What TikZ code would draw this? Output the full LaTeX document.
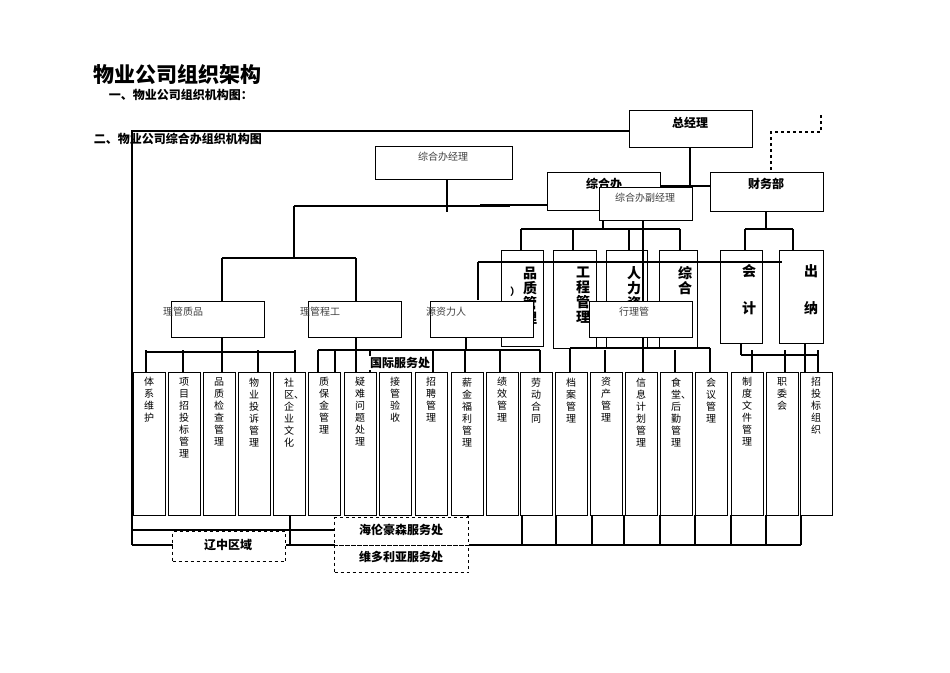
\documentclass[tikz,border=0pt]{standalone}
\usepackage{fontspec}
\setmainfont{Noto Sans CJK SC}
\XeTeXlinebreaklocale "zh"
\XeTeXlinebreakskip = 0pt plus 1pt
\begin{document}
\begin{tikzpicture}[x=1pt,y=-1pt,line width=1.2pt,
  bx/.style={draw,fill=white,inner sep=0},
  dbx/.style={draw,dashed,fill=white,inner sep=0},
  vt/.style={anchor=north,text width=10pt,align=center,font=\fontsize{10}{12}\selectfont,inner sep=0},
  vb/.style={anchor=north,text width=15pt,align=center,font=\fontsize{14}{15}\selectfont\bfseries,inner sep=0},
  sm/.style={font=\fontsize{10}{11}\selectfont,text=black!75}]
\useasboundingbox (0,0) rectangle (950,672);
% titles
\node[anchor=west,font=\fontsize{21}{22}\selectfont\bfseries] (t1) at (90,75) {物业公司组织架构};
\node[anchor=west,font=\fontsize{12}{13}\selectfont\bfseries] (t2) at (105,95) {一、物业公司组织机构图：};
% outer lines
\draw (132,545) -- (132,131) -- (629,131);
\draw[dashed] (771,170) -- (771,132) -- (821,132) -- (821,113);
\draw (690,147) -- (690,186) (660,186) -- (710,186);
\draw (480,205) -- (599,205);
% top boxes
\node[bx,minimum width=123,minimum height=37,anchor=north west] (zjl) at (629,110) {};
\node[font=\fontsize{12}{13}\selectfont\bfseries] at (690,123) {总经理};
\node[bx,minimum width=137,minimum height=33,anchor=north west] (zhjl) at (375,146) {};
\node[sm] at (443,157) {综合办经理};
\draw (447,179) -- (447,212) (294,206) -- (510,206) (294,206) -- (294,258) (222,258) -- (356,258) (222,258) -- (222,301) (356,258) -- (356,301);
\node[bx,minimum width=113,minimum height=38,anchor=north west] (zhb) at (547,172) {};
\node[font=\fontsize{12}{13}\selectfont\bfseries] at (604,184) {综合办};
\node[bx,minimum width=113,minimum height=39,anchor=north west] (cwb) at (710,172) {};
\node[font=\fontsize{12}{13}\selectfont\bfseries] at (766,184) {财务部};
\node[bx,minimum width=93,minimum height=33,anchor=north west] (fjl) at (599,187) {};
\node[sm] at (645,198) {综合办副经理};
% second level
\draw (521,229) -- (680,229);
\foreach \x in {521,573,629,680} \draw (\x,229) -- (\x,250);
\draw (603,220) -- (603,229) (766,211) -- (766,229) (745,229) -- (793,229) (745,229) -- (745,250) (793,229) -- (793,250);
\node[bx,minimum width=42,minimum height=96,anchor=north west] (pz) at (501,250) {};
\node[vb] at (530,266) {品质管理};
\node[font=\bfseries] at (515,292) {）};
\node[bx,minimum width=43,minimum height=98,anchor=north west] (gc) at (553,250) {};
\node[vb] at (583,266) {工程管理};
\node[bx,minimum width=41,minimum height=97,anchor=north west] (rl) at (606,250) {};
\node[vb] at (634,266) {人力资源};
\node[bx,minimum width=38,minimum height=97,anchor=north west] (zh) at (659,250) {};
\node[vb] at (685,266) {综合};
\node[bx,minimum width=42,minimum height=93,anchor=north west] (kj) at (720,250) {};
\node[vb] at (749,264) {会\\[22pt]计};
\node[bx,minimum width=44,minimum height=93,anchor=north west] (cn) at (779,250) {};
\node[vb] at (811,264) {出\\[22pt]纳};
\draw (478,262) -- (782,262) (478,262) -- (478,300) (643,220) -- (643,372);
% third level
\node[bx,minimum width=93,minimum height=36,anchor=north west] (lg1) at (171,301) {};
\node[sm] at (183,312) {理管质品};
\node[bx,minimum width=93,minimum height=36,anchor=north west] (lg2) at (308,301) {};
\node[sm] at (320,312) {理管程工};
\node[bx,minimum width=103,minimum height=36,anchor=north west] (lg3) at (430,301) {};
\node[sm] at (446,312) {源资力人};
\node[bx,minimum width=103,minimum height=36,anchor=north west] (lg4) at (589,301) {};
\node[sm] at (634,312) {行理管};
% connectors to bottom row
\draw (222,337) -- (222,352) (146,352) -- (295,352);
\draw (356,337) -- (356,372) (318,350) -- (465,350) (318,350) -- (318,372) (465,350) -- (465,372);
\draw (466,337) -- (466,350) (466,350) -- (540,350) (540,350) -- (540,372);
\draw (570,348) -- (710,348) (570,348) -- (570,372) (710,348) -- (710,372);
\draw (741,343) -- (741,355) (741,355) -- (818,355) (805,343) -- (805,372);
\foreach \x in {146,183,222,258,295,335,370,433,500,605,675,752,785,818} \draw (\x,350) -- (\x,372);
\node[font=\fontsize{12}{13}\selectfont\bfseries,fill=white,inner sep=1pt] (gj) at (400,363) {国际服务处};
% bottom row
\foreach \x/\t [count=\i] in {133/体系维护,168/项目招投标管理,203/品质检查管理,238/物业投诉管理,273/社区、企业文化,308/质保金管理,344/疑难问题处理,379/接管验收,415/招聘管理,451/薪金福利管理,486/绩效管理,520/劳动合同,555/档案管理,590/资产管理,625/信息计划管理,660/食堂、后勤管理,695/会议管理,731/制度文件管理,766/职委会,800/招投标组织}{
  \node[bx,minimum width=32,minimum height=143,anchor=north west] (b\i) at (\x,372) {};
  \node[vt] at (\x+16,377) {\t};
}
% bottom lines
\draw (132,545) -- (801,545);
\draw (132,530) -- (468,530);
\foreach \x in {132,290,468,522,556,592,624,660,695,731,766,801} \draw (\x,515) -- (\x,545);
\node[dbx,minimum width=113,minimum height=30,anchor=north west] (lz) at (172,531) {};
\node[font=\fontsize{12}{13}\selectfont\bfseries] at (228,545) {辽中区域};
\node[dbx,minimum width=134,minimum height=28,anchor=north west] (hl) at (334,517) {};
\node[font=\fontsize{12}{13}\selectfont\bfseries] at (401,530) {海伦豪森服务处};
\node[dbx,minimum width=134,minimum height=27,anchor=north west] (wd) at (334,545) {};
\node[font=\fontsize{12}{13}\selectfont\bfseries] at (401,557) {维多利亚服务处};
\node[anchor=west,font=\fontsize{12}{13}\selectfont\bfseries] (t3) at (90,139) {二、物业公司综合办组织机构图};
\end{tikzpicture}
\end{document}
